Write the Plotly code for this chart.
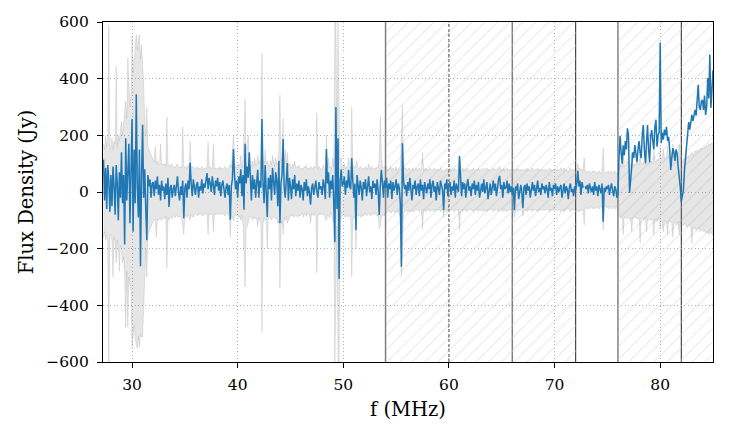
import numpy as np
import plotly.graph_objects as go

# frequency grid (MHz): 27.3 ... 85.0, 0.1 MHz channels
f_start = 27.3
f_step = 0.1

# measured flux density (Jy), one row per MHz
flux = [
    115, -30, 85, -60, 95, 40, -70,                      # 27.3-27.9
    60, -50, 90, 20, -80, 95, 30, -100, 70, -20,          # 28
    140, -40, 60, -185, 190, -30, 120, 170, -110, 60,     # 29
    258, -140, 150, -40, 345, 20, -90, 150, -262, 60,     # 30
    237, -20, 80, -60, -170, 60, 20, 45, -20, 30,         # 31
    35, -15, 40, 10, 55, -10, 25, -30, 40, 5,             # 32
    20, -25, 30, -10, 50, -53, 15, 25, -20, 10,           # 33
    25, -15, 35, 55, 0, -30, 20, -10, 40, -93,            # 34
    15, 30, -20, 40, 10, 103, 30, -15, 45, 20,            # 35
    -10, 25, 35, -20, 20, 5, 45, -5, 30, 15,              # 36
    40, 67, 10, 50, 30, 0, 55, 25, -10, 40,               # 37
    20, 50, 5, 35, -15, 25, 40, 10, -20, 15,              # 38
    30, -10, 25, -98, 20, 45, 152, 60, 10, 40,            # 39
    -20, 55, 30, 80, -15, 60, -63, 170, 30, 90,           # 40
    50, 140, 20, -30, 60, 10, 45, -20, 35, 78,            # 41
    -20, 40, 15, 258, 30, -40, 95, 20, -88, 50,           # 42
    10, 60, -30, 85, 20, -10, 70, 40, -50, 110,           # 43
    -110, 30, 60, 187, 20, -20, 40, 102, -30, 50,         # 44
    20, -25, 45, 10, 60, -15, 30, 5, 40, -20,             # 45
    25, 10, -30, 35, 5, 45, -15, 20, -5, -45,             # 46
    15, 30, -10, 25, 40, 0, -20, 35, 10, 20,              # 47
    -10, 45, 20, -25, 152, 30, 70, -20, 40, 10,           # 48
    60, -40, -177, 300, -60, 190, -307, 40, 80, 20,       # 49
    30, 55, -10, 40, 15, 78, 20, 10, 120, 40,             # 50
    -20, 30, -134, 60, 25, -10, 40, 15, -30, 35,          # 51
    10, 45, -15, 30, 55, 0, 20, -25, 40, 15,              # 52
    30, -10, 45, 5, -81, 20, 78, 35, -20, 40,             # 53
    15, 50, -20, 30, 10, 40, -25, 35, 5, 20,              # 54
    45, -10, 30, 15, -40, -264, 172, 40, 10, 25,          # 55
    -15, 35, 5, 50, 20, -30, 25, 10, 40, -10,             # 56
    20, 30, -15, 45, 5, 25, -25, 35, 15, -5,              # 57
    30, 10, 45, -20, 25, 40, 0, 20, -30, 35,              # 58
    15, -10, 40, 20, 5, -64, 30, 10, 45, -15,             # 59
    25, 35, -10, 20, 5, 40, -20, 30, 15, 0,               # 60
    127, 20, -15, 35, 10, 30, -20, 25, 45, 5,             # 61
    20, -15, 30, 10, 40, -10, 25, 5, 35, -20,             # 62
    15, 30, 0, 45, -5, 20, 35, -25, 10, 30,               # 63
    -10, 25, 40, 5, 30, -15, 20, 45, 57, 10,              # 64
    25, -20, 35, 10, 15, 40, -5, 30, 0, 20,               # 65
    -10, 15, -64, 20, 5, 30, -25, 10, 25, 0,              # 66
    -57, 15, 25, -10, 30, 5, 20, -20, 10, 35,             # 67
    5, 25, -15, 20, 40, 0, 15, -10, 30, 10,               # 68
    20, -5, 25, 10, -20, 35, 5, 15, -15, 25,              # 69
    10, 30, -10, 20, 0, 15, 25, -20, 5, 30,               # 70
    -5, 20, 10, -25, 15, 30, 0, 10, -15, 20,              # 71
    5, 30, 75, 20, 40, -10, 35, 15, None, 20,             # 72
    10, 25, -5, 30, 15, 0, 20, -10, 35, 5,                # 73
    20, -15, 25, 10, -5, 30, -105, 15, 0, 20,             # 74
    10, 25, -10, 15, 30, 5, -15, 20, 10, -20,             # 75
    -10, 120, 198, 140, 100, 165, 130, 180, 150, 225,     # 76
    200, -3, 60, 88, 140, 120, 166, 130, 105, 150,        # 77
    180, 140, 120, 200, 236, 150, 102, 170, 236, 150,     # 78
    105, 200, 219, 180, 150, 230, 255, 160, 200, 210,     # 79
    528, 172, 210, 185, 220, 200, 230, 180, 195, 150,     # 80
    78, 120, 155, 140, 110, 150, 137, 90, 60, 18,         # 81
    -35, -10, 7, 78, 120, 155, 200, 247, 220, 260,        # 82
    272, 250, 280, 290, 270, 310, 378, 300, 290, 320,     # 83
    325, 290, 340, 272, 300, 402, 330, 485, 297, 360,     # 84
    430,                                                  # 85.0
]

# upper edge of the grey uncertainty band (Jy)
band_hi = [
    170, 150, 200, 160, 180, 590, 150,
    160, 190, 150, 180, 170, 443, 160, 200, 180, 220,
    250, 200, 230, 280, 320, 260, 474, 380, 300, 350,
    550, 420, 480, 520, 555, 500, 540, 555, 470, 520,
    450, 380, 250, 200, 300, 160, 150, 140, 130, 120,
    110, 105, 160, 100, 110, 95, 100, 170, 95, 100,
    95, 100, 90, 265, 100, 95, 90, 100, 95, 90,
    90, 85, 95, 100, 90, 85, 90, 85, 230, 90,
    85, 90, 80, 95, 85, 180, 90, 85, 90, 85,
    80, 85, 90, 80, 85, 80, 90, 85, 80, 85,
    80, 90, 177, 85, 90, 80, 85, 170, 80, 85,
    80, 85, 80, 90, 80, 85, 80, 85, 90, 80,
    80, 85, 90, 100, 85, 140, 200, 120, 85, 90,
    85, 100, 90, 130, 85, 110, 200, 330, 150, 160,
    200, 100, 90, 95, 110, 90, 120, 95, 100, 130,
    100, 110, 120, 490, 120, 100, 150, 100, 110, 95,
    90, 110, 95, 130, 100, 90, 120, 100, 95, 150,
    342, 110, 120, 260, 100, 150, 95, 140, 90, 100,
    90, 85, 100, 90, 110, 85, 90, 85, 95, 80,
    80, 85, 80, 90, 85, 95, 80, 85, 80, 90,
    85, 80, 90, 85, 95, 280, 80, 90, 85, 80,
    80, 95, 85, 80, 200, 90, 120, 85, 90, 80,
    120, 90, 600, 600, 150, 600, 300, 110, 120, 90,
    85, 100, 80, 90, 85, 120, 90, 85, 300, 100,
    90, 85, 100, 110, 85, 80, 90, 85, 80, 85,
    80, 90, 85, 80, 100, 85, 80, 90, 85, 80,
    85, 80, 90, 85, 120, 265, 130, 90, 85, 90,
    80, 90, 75, 80, 85, 90, 75, 85, 80, 75,
    90, 75, 80, 85, 90, 200, 307, 110, 80, 85,
    80, 75, 85, 80, 75, 80, 85, 75, 80, 85,
    75, 80, 85, 75, 80, 140, 75, 80, 85, 75,
    80, 75, 85, 80, 75, 80, 85, 75, 80, 75,
    80, 75, 85, 80, 75, 70, 80, 75, 85, 75,
    80, 85, 75, 80, 75, 85, 80, 75, 80, 75,
    130, 80, 75, 85, 75, 80, 75, 85, 80, 75,
    75, 80, 75, 85, 80, 75, 80, 75, 85, 75,
    80, 75, 80, 85, 75, 80, 85, 75, 80, 75,
    75, 80, 85, 75, 80, 75, 80, 85, 90, 75,
    80, 75, 85, 75, 80, 85, 75, 80, 75, 80,
    75, 80, 75, 80, 75, 85, 75, 80, 75, 80,
    75, 80, 75, 80, 85, 75, 80, 75, 80, 85,
    75, 80, 75, 80, 85, 75, 80, 75, 80, 75,
    80, 75, 80, 75, 75, 85, 75, 80, 75, 80,
    75, 80, 75, 80, 75, 80, 85, 75, 80, 85,
    75, 80, 75, 70, 80, 85, 75, 80, 75, 80,
    75, 80, 100, 80, 85, 75, 80, 75, 120, 75,
    70, 75, 70, 75, 70, 65, 75, 70, 75, 70,
    70, 65, 75, 70, 65, 75, 155, 70, 65, 70,
    70, 75, 65, 70, 75, 70, 65, 75, 70, 65,
    70, 80, 100, 90, 85, 150, 90, 95, 100, 110,
    100, 95, 90, 140, 95, 100, 90, 95, 105, 100,
    95, 140, 100, 95, 105, 100, 95, 150, 100, 105,
    100, 110, 105, 100, 150, 110, 105, 115, 110, 120,
    160, 115, 120, 150, 115, 120, 125, 160, 120, 125,
    120, 125, 170, 120, 130, 125, 135, 120, 170, 125,
    110, 105, 115, 120, 110, 125, 120, 130, 125, 135,
    140, 130, 135, 145, 140, 150, 145, 140, 155, 150,
    155, 150, 160, 155, 165, 160, 170, 165, 170, 175,
    170,
]

# lower edge of the grey uncertainty band (Jy)
band_lo = [
    -160, -140, -170, -150, -180, -600, -150,
    -150, -170, -300, -160, -180, -250, -170, -200, -280, -190,
    -200, -250, -230, -300, -480, -280, -477, -300, -320, -350,
    -548, -500, -470, -520, -540, -552, -510, -548, -500, -512,
    -512, -380, -250, -200, -300, -150, -140, -130, -120, -110,
    -100, -95, -100, -160, -95, -100, -90, -95, -100, -90,
    -90, -95, -85, -270, -90, -100, -85, -90, -95, -85,
    -85, -90, -80, -85, -90, -85, -90, -95, -120, -150,
    -80, -85, -90, -80, -85, -100, -80, -85, -90, -80,
    -75, -80, -85, -75, -80, -75, -80, -85, -75, -80,
    -75, -80, -150, -75, -80, -75, -80, -140, -75, -80,
    -75, -80, -75, -80, -75, -80, -75, -80, -85, -75,
    -75, -80, -85, -160, -80, -90, -100, -85, -80, -85,
    -80, -90, -85, -100, -80, -110, -200, -335, -130, -120,
    -110, -90, -85, -90, -100, -85, -95, -90, -100, -120,
    -90, -100, -110, -495, -110, -90, -100, -95, -200, -90,
    -85, -95, -100, -90, -85, -90, -95, -90, -110, -100,
    -340, -120, -100, -150, -90, -100, -85, -110, -100, -90,
    -80, -85, -80, -90, -85, -80, -85, -90, -80, -85,
    -80, -75, -90, -80, -75, -85, -80, -75, -80, -110,
    -75, -80, -85, -75, -80, -285, -85, -75, -80, -75,
    -80, -75, -85, -90, -100, -80, -85, -90, -75, -80,
    -100, -110, -600, -300, -120, -600, -600, -100, -90, -85,
    -80, -85, -90, -80, -85, -90, -80, -85, -300, -100,
    -85, -90, -200, -80, -85, -80, -85, -90, -80, -85,
    -80, -75, -85, -80, -75, -80, -85, -80, -75, -80,
    -75, -80, -85, -80, -130, -120, -90, -85, -80, -85,
    -70, -75, -70, -65, -70, -75, -70, -65, -70, -75,
    -70, -65, -70, -75, -90, -300, -220, -80, -70, -65,
    -65, -70, -65, -70, -65, -70, -65, -70, -60, -65,
    -60, -65, -70, -60, -65, -130, -60, -65, -70, -60,
    -65, -60, -70, -65, -60, -65, -70, -60, -65, -60,
    -65, -60, -70, -65, -60, -90, -65, -60, -70, -60,
    -60, -65, -60, -65, -60, -70, -65, -60, -65, -60,
    -134, -65, -60, -70, -60, -65, -60, -70, -65, -60,
    -60, -65, -60, -70, -65, -60, -65, -60, -70, -60,
    -65, -60, -65, -70, -60, -65, -70, -60, -65, -60,
    -60, -65, -70, -60, -65, -60, -65, -70, -60, -60,
    -65, -60, -70, -60, -65, -70, -60, -65, -60, -65,
    -60, -65, -90, -65, -60, -70, -60, -65, -60, -65,
    -85, -65, -60, -65, -70, -60, -65, -60, -65, -70,
    -60, -65, -60, -65, -70, -60, -65, -60, -65, -60,
    -65, -60, -65, -60, -60, -70, -60, -65, -60, -65,
    -60, -65, -60, -65, -60, -65, -70, -60, -65, -70,
    -60, -65, -60, -55, -65, -70, -60, -65, -60, -65,
    -60, -65, -70, -65, -70, -60, -65, -60, -117, -60,
    -55, -60, -55, -60, -55, -50, -60, -55, -60, -55,
    -55, -50, -60, -55, -50, -60, -134, -55, -50, -55,
    -55, -60, -50, -55, -60, -55, -50, -60, -55, -50,
    -70, -80, -90, -85, -90, -150, -85, -90, -95, -90,
    -90, -95, -90, -140, -95, -90, -85, -95, -90, -95,
    -90, -180, -95, -90, -100, -95, -90, -140, -95, -100,
    -95, -100, -95, -100, -150, -95, -100, -105, -95, -100,
    -130, -100, -105, -140, -100, -105, -110, -150, -100, -105,
    -105, -110, -160, -105, -110, -115, -110, -105, -150, -110,
    -110, -115, -120, -110, -115, -120, -125, -115, -120, -125,
    -180, -125, -130, -125, -135, -130, -125, -135, -140, -130,
    -135, -140, -135, -145, -140, -145, -150, -140, -145, -150,
    -150,
]

# flagged (hatched) frequency ranges, MHz
hatch_start = [54, 76]
hatch_end = [72, 85]

# vertical marker lines, MHz
vline_pos = [54, 60, 66, 72, 76, 82]
vline_kind = ["grey", "dash", "grey", "black", "grey", "black"]

x_ticks = [30, 40, 50, 60, 70, 80]
y_ticks = [-600, -400, -200, 0, 200, 400, 600]

n = len(flux)
if not (len(band_hi) == n and len(band_lo) == n):
    raise SystemExit(f"length mismatch {n} {len(band_hi)} {len(band_lo)}")
freq = np.round(f_start + f_step * np.arange(n), 2)

FONT = "DejaVu Serif"
fig = go.Figure()

# hatched flagged regions
fig.add_trace(go.Bar(
    x=[(a + b) / 2 for a, b in zip(hatch_start, hatch_end)],
    y=[1200] * len(hatch_start),
    base=[-600] * len(hatch_start),
    width=[b - a for a, b in zip(hatch_start, hatch_end)],
    marker=dict(color="rgba(0,0,0,0)", line=dict(width=0),
                pattern=dict(shape="/", fgcolor="#d2d2d2",
                             bgcolor="rgba(0,0,0,0)", size=9, solidity=0.12)),
    showlegend=False, hoverinfo="skip",
))

# grey band
fig.add_trace(go.Scatter(x=freq, y=band_lo, mode="lines",
                         line=dict(color="rgba(128,128,128,0.28)", width=0.7),
                         showlegend=False, hoverinfo="skip"))
fig.add_trace(go.Scatter(x=freq, y=band_hi, mode="lines", fill="tonexty",
                         fillcolor="rgba(128,128,128,0.2)",
                         line=dict(color="rgba(128,128,128,0.28)", width=0.7),
                         showlegend=False, hoverinfo="skip"))

# spectrum
fig.add_trace(go.Scatter(x=freq, y=flux, mode="lines",
                         line=dict(color="#1f77b4", width=1.5),
                         connectgaps=False, showlegend=False))

styles = {
    "grey": dict(color="#808080", width=1.5, dash="solid"),
    "black": dict(color="#222222", width=1.0, dash="solid"),
    "dash": dict(color="#222222", width=0.9, dash="3px,2px"),
}
for xv, k in zip(vline_pos, vline_kind):
    fig.add_shape(type="line", x0=xv, x1=xv, y0=0, y1=1, xref="x", yref="paper",
                  line=styles[k], layer="below")

axis_common = dict(
    showline=True, linecolor="black", linewidth=1.2, mirror=True,
    ticks="outside", ticklen=5, tickwidth=1, tickcolor="black",
    showgrid=True, gridcolor="#b0b0b0", gridwidth=0.9, griddash="1px,2.5px",
    zeroline=False, tickfont=dict(family=FONT, size=15.5, color="black"),
)

fig.update_xaxes(range=[27.25, 85.0], tickvals=x_ticks, ticklabelstandoff=3,
                 title=dict(text="f (MHz)", font=dict(family=FONT, size=19.5, color="black"),
                            standoff=9),
                 **axis_common)
fig.update_yaxes(range=[-600, 600], tickvals=y_ticks, ticklabelstandoff=5,
                 title=dict(text="Flux Density (Jy)", font=dict(family=FONT, size=19.5, color="black"),
                            standoff=7),
                 **axis_common)

fig.update_layout(
    width=736, height=437,
    margin=dict(l=103, r=23, t=22, b=75),
    plot_bgcolor="white", paper_bgcolor="white",
    barmode="overlay", bargap=0, hovermode=False,
)

fig.write_html("out.html")
